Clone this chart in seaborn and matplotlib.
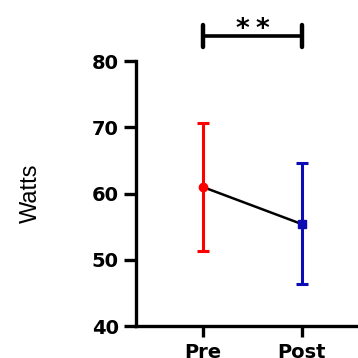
import matplotlib
matplotlib.use('Agg')
import matplotlib.pyplot as plt
import seaborn as sns
import pandas as pd

# data
groups = ['Pre', 'Post']
means = [61.0, 55.4]
upper = [70.6, 64.6]
lower = [51.3, 46.3]
colors = ['#ff0000', '#0c0cb4']
markers = ['o', 's']

sns.set_style('ticks', {'axes.edgecolor': 'black', 'text.color': 'black',
                        'xtick.color': 'black', 'ytick.color': 'black',
                        'axes.labelcolor': 'black'})
plt.rcParams['font.family'] = ['Liberation Sans', 'DejaVu Sans']

fig = plt.figure(figsize=(3.58, 3.58), dpi=100)
ax = fig.add_axes([0.38, 0.089, 0.62, 0.74])

df = pd.DataFrame({'x': range(len(groups)), 'Watts': means})
sns.lineplot(data=df, x='x', y='Watts', color='black', linewidth=1.8, ax=ax, zorder=2)

for i, g in enumerate(groups):
    yerr = [[means[i] - lower[i]], [upper[i] - means[i]]]
    ax.errorbar(i, means[i], yerr=yerr, fmt=markers[i], color=colors[i],
                markersize=6, elinewidth=2.2, capsize=4, capthick=2.2, zorder=3)

ax.set_xlim(-0.677, 1.566)
ax.set_ylim(40, 80)
ax.set_yticks([40, 50, 60, 70, 80])
ax.set_xticks(range(len(groups)))
ax.set_xticklabels(groups)
ax.set_xlabel('')
ax.set_ylabel('Watts', fontsize=17)
ax.yaxis.set_label_coords(-0.425, 0.5)

for lab in ax.get_yticklabels() + ax.get_xticklabels():
    lab.set_fontweight('bold')
    lab.set_fontsize(14)
    lab.set_family('DejaVu Sans')

sns.despine(ax=ax)
ax.spines['left'].set_linewidth(2.4)
ax.spines['bottom'].set_linewidth(2.4)
ax.tick_params(axis='y', direction='out', length=8.5, width=2.4, pad=4)
ax.tick_params(axis='x', direction='out', length=8, width=2.4, pad=4)

# significance bracket
ax.plot([0, 1], [83.8, 83.8], color='black', lw=2.6, clip_on=False)
ax.plot([0, 0], [82.1, 85.4], color='black', lw=3.2, clip_on=False)
ax.plot([1, 1], [82.1, 85.4], color='black', lw=3.2, clip_on=False)
for sx in [0.394, 0.596]:
    ax.text(sx, 83.6, '*', ha='center', va='baseline', fontsize=19, fontweight='bold',
            family='DejaVu Sans', clip_on=False)

fig.savefig('out.png', dpi=100)
